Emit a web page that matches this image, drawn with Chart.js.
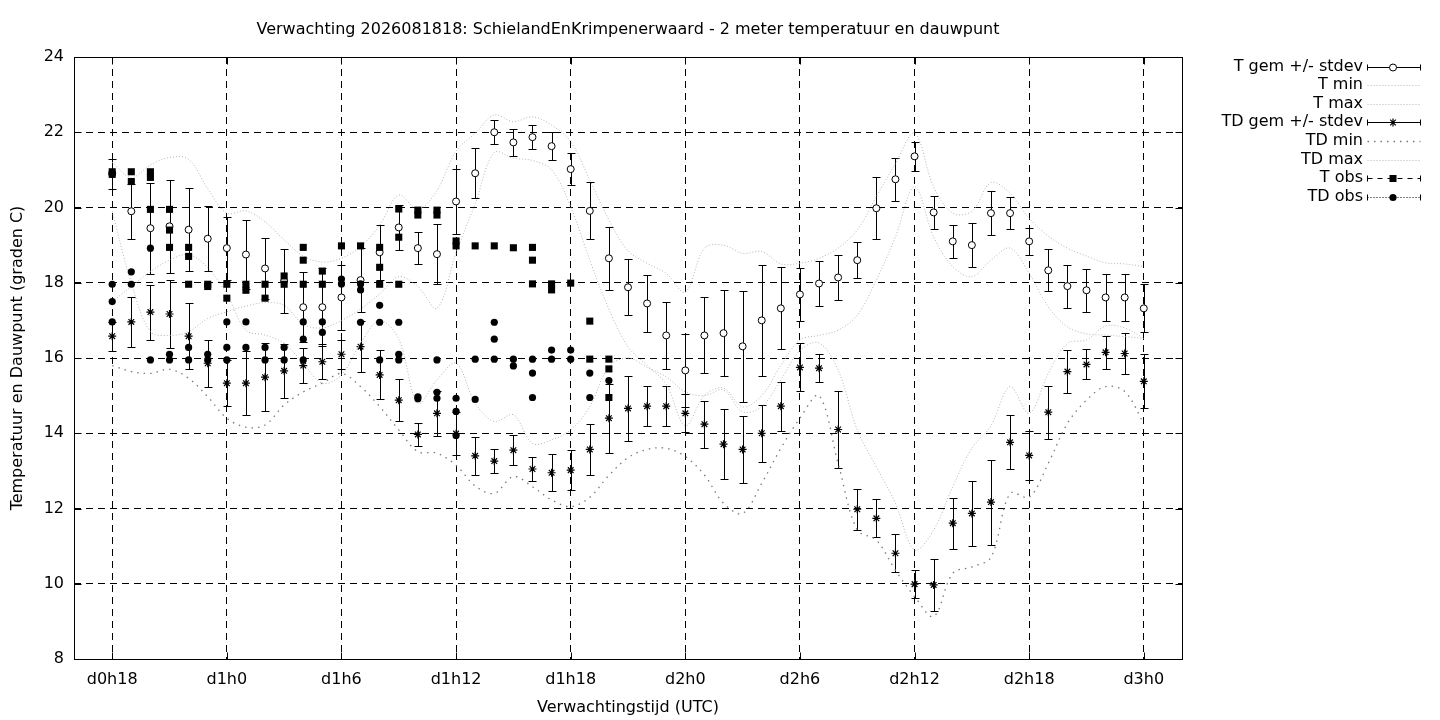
<!DOCTYPE html>
<html><head><meta charset="utf-8">
<script src="https://cdn.jsdelivr.net/npm/chart.js@4.4.1/dist/chart.umd.min.js"></script>
<style>html,body{margin:0;padding:0;background:#fff;}#wrap{width:1440px;height:720px;}</style>
</head><body><div id="wrap"><canvas id="c" width="1440" height="720"></canvas></div>
<script>
const titleText = 'Verwachting 2026081818: SchielandEnKrimpenerwaard - 2 meter temperatuur en dauwpunt';
const xTitle = 'Verwachtingstijd (UTC)';
const yTitle = 'Temperatuur en Dauwpunt (graden C)';
const seriesLabels = ['T gem +/- stdev','T min','T max','TD gem +/- stdev','TD min','TD max','T obs','TD obs'];
const xTickHours = [18,24,30,36,42,48,54,60,66,72];
const xTickLabels = ['d0h18','d1h0','d1h6','d1h12','d1h18','d2h0','d2h6','d2h12','d2h18','d3h0'];
const yTicks = [8,10,12,14,16,18,20,22,24];

const hours = [18,19,20,21,22,23,24,25,26,27,28,29,30,31,32,33,34,35,36,37,38,39,40,41,42,43,44,45,46,47,48,49,50,51,52,53,54,55,56,57,58,59,60,61,62,63,64,65,66,67,68,69,70,71,72];
const tMean = [20.9,19.9,19.45,19.5,19.41,19.17,18.92,18.75,18.38,18.05,
  17.35,17.35,17.61,18.07,18.81,19.47,18.92,18.76,20.16,20.91,
  22.0,21.73,21.87,21.63,21.02,19.91,18.65,17.88,17.45,16.6,
  15.67,16.6,16.66,16.31,17.0,17.32,17.69,17.98,18.14,18.6,
  19.98,20.75,21.36,19.87,19.1,19.0,19.85,19.85,19.1,18.33,
  17.91,17.8,17.61,17.61,17.32];
const tStd = [0.4,0.73,1.21,1.24,1.1,0.86,0.84,0.92,0.82,0.85,
  0.93,1.04,0.87,0.85,0.73,0.6,0.43,0.79,0.87,0.66,
  0.32,0.35,0.31,0.37,0.42,0.76,0.83,0.75,0.76,0.89,
  0.96,1.01,1.15,1.47,1.47,1.09,0.71,0.61,0.6,0.47,
  0.83,0.57,0.38,0.44,0.44,0.59,0.59,0.42,0.36,0.56,
  0.57,0.57,0.62,0.62,0.64];
const tMin = [19.9,18.0,16.7,16.6,16.7,17.05,17.23,17.38,17.47,17.4,
  16.9,16.8,17.0,17.3,17.7,18.16,17.9,17.32,18.8,20.1,
  21.46,21.31,21.25,21.0,20.02,18.6,17.3,16.3,15.8,15.3,
  14.2,15.0,15.2,14.7,15.0,15.8,16.48,16.6,16.74,17.14,
  18.07,19.22,20.55,19.22,18.43,18.16,18.6,18.92,18.25,17.36,
  16.83,16.64,16.61,16.57,16.52];
const tMax = [21.2,20.8,21.13,21.33,21.28,20.5,19.85,19.91,19.62,19.14,
  18.71,18.55,18.65,18.96,19.53,20.33,19.95,20.45,21.5,21.97,
  22.46,22.28,22.41,22.19,21.75,20.73,19.67,18.85,18.52,18.25,
  17.75,18.92,19.0,18.78,18.83,18.5,18.52,18.65,18.92,19.4,
  20.29,21.17,21.97,20.55,19.85,19.9,20.66,20.38,19.71,19.24,
  18.92,18.71,18.53,18.5,18.43];
const tdMean = [16.58,16.96,17.22,17.17,16.58,15.86,15.33,15.33,15.49,15.66,
  15.8,15.9,16.1,16.3,15.55,14.88,13.97,14.53,13.99,13.4,
  13.26,13.55,13.05,12.95,13.02,13.57,14.4,14.66,14.72,14.72,
  14.53,14.24,13.71,13.57,14.0,14.72,15.75,15.73,14.1,11.98,
  11.74,10.81,9.99,9.97,11.61,11.87,12.17,13.76,13.41,14.56,
  15.64,15.83,16.15,16.12,15.38];
const tdStd = [0.39,0.66,0.73,0.9,0.87,0.62,0.61,0.85,0.91,0.71,
  0.46,0.47,0.38,0.68,0.65,0.55,0.3,0.6,0.58,0.5,
  0.31,0.4,0.31,0.49,0.53,0.67,0.92,0.87,0.53,0.53,
  0.51,0.62,0.93,0.9,0.76,0.65,0.64,0.38,1.03,0.55,
  0.5,0.51,0.375,0.7,0.68,0.87,1.13,0.72,0.64,0.7,
  0.58,0.4,0.43,0.55,0.72];
const tdMin = [15.8,15.64,15.59,15.7,15.46,14.97,14.4,14.16,14.22,14.75,
  15.1,15.33,15.59,15.24,14.71,14.09,13.51,13.47,13.15,12.6,
  12.4,12.85,12.58,12.23,12.05,12.3,12.88,13.35,13.57,13.6,
  13.38,12.89,12.14,11.87,12.67,13.6,14.4,15.0,13.2,11.43,
  11.16,10.36,9.66,9.13,10.28,10.45,10.7,12.4,12.3,13.2,
  14.26,14.88,15.24,15.11,14.26];
const tdMax = [17.5,17.9,18.3,18.6,18.75,18.4,17.7,16.74,16.61,16.39,
  15.86,15.33,15.55,16.39,17.0,16.5,14.8,15.42,15.86,14.8,
  14.31,14.49,13.73,13.82,14.09,14.71,15.77,16.0,15.75,15.5,
  15.1,15.0,15.15,14.57,14.71,15.42,16.2,16.4,15.68,14.09,
  13.11,12.14,10.9,11.43,12.58,13.6,14.2,15.24,14.53,15.59,
  16.39,16.48,16.85,16.8,16.52];

const obsHours = [18,19,20,21,22,23,24,25,26,27,28,29,30,31,32,33,34,35,36,37,38,39,40,41,42,43,44];
const tObs = [[20.95,20.88],[20.95,20.69],[20.95,20.8,19.95],[19.95,19.4,18.94],[18.94,18.7,17.96],
  [17.96,17.9],[17.96,17.59],[17.96,17.8],[17.96,17.59],[18.18,17.96],
  [18.94,18.6,17.96],[18.31,17.96],[18.98],[18.98],[18.94,18.41,17.96],
  [19.96,19.21,17.96],[19.93,19.8],[19.93,19.8],[19.11,18.98],[18.98],
  [18.98],[18.93],[18.94,18.6,17.97],[17.97,17.81],[17.99],
  [16.98,15.97],[15.97,15.71,14.95]];
const tdObs = [[17.96,17.5,16.96],[18.29,17.96],[18.92,15.95],[16.1,15.95],[16.28,15.95],
  [16.1,15.95],[16.96,16.28,15.95],[16.96,16.28],[16.28,15.95],[16.28,15.95],
  [16.96,16.5,15.95],[16.96,16.68],[18.1,17.97],[17.97,17.81,16.95],[17.4,16.95,15.95],
  [16.95,16.1,15.95],[14.97,14.92],[15.95,15.09,14.93],[14.93,14.58,13.94],[15.97,14.9],
  [16.95,16.5,15.97],[15.97,15.79],[15.97,15.6,14.95],[16.21,15.97],[16.21,15.97],
  [15.6,14.95],[15.4]];

const FONT = '"DejaVu Sans", sans-serif';
const LIGHT = '#b4b4b4';
const LIGHT_DASH = [1, 2];
const DARK = '#7a7a7a';
const DARK_DASH = [1.5, 5];

function pts(xs, ys) { return xs.map((x, i) => ({x: x, y: ys[i]})); }
function obsPts(xs, lists) {
  const out = [];
  xs.forEach((x, i) => lists[i].forEach(v => out.push({x: x, y: v})));
  return out;
}

const errorBars = {
  id: 'errorBars',
  beforeDatasetsDraw(chart) {
    const ctx = chart.ctx, xs = chart.scales.x, ys = chart.scales.y;
    ctx.save();
    ctx.strokeStyle = '#000';
    ctx.lineWidth = 1;
    chart.data.datasets.forEach(ds => {
      if (!ds.errors) return;
      ds.data.forEach((p, i) => {
        const x = Math.round(xs.getPixelForValue(p.x)) + 0.5;
        const y1 = Math.round(ys.getPixelForValue(p.y - ds.errors[i])) + 0.5;
        const y2 = Math.round(ys.getPixelForValue(p.y + ds.errors[i])) + 0.5;
        ctx.beginPath();
        ctx.moveTo(x, y1); ctx.lineTo(x, y2);
        ctx.moveTo(x - 4, y1); ctx.lineTo(x + 4, y1);
        ctx.moveTo(x - 4, y2); ctx.lineTo(x + 4, y2);
        ctx.stroke();
      });
    });
    ctx.restore();
  }
};

const frame = {
  id: 'frame',
  afterDraw(chart) {
    const ctx = chart.ctx, a = chart.chartArea, xs = chart.scales.x, ys = chart.scales.y;
    const L = Math.round(a.left) + 0.5, R = Math.round(a.right) + 0.5;
    const T = Math.round(a.top) + 0.5, B = Math.round(a.bottom) + 0.5;
    ctx.save();
    ctx.strokeStyle = '#000';
    ctx.lineWidth = 1;
    ctx.setLineDash([]);
    ctx.strokeRect(L, T, R - L, B - T);
    ctx.beginPath();
    yTicks.forEach(v => {
      const y = Math.round(ys.getPixelForValue(v)) + 0.5;
      ctx.moveTo(L, y); ctx.lineTo(L + 7, y);
      ctx.moveTo(R, y); ctx.lineTo(R - 7, y);
    });
    xTickHours.forEach(h => {
      const x = Math.round(xs.getPixelForValue(h)) + 0.5;
      ctx.moveTo(x, B); ctx.lineTo(x, B - 7);
      ctx.moveTo(x, T); ctx.lineTo(x, T + 7);
    });
    ctx.stroke();
    ctx.restore();
  }
};

function drawPointAt(ctx, style, x, y) {
  ctx.save();
  ctx.setLineDash([]);
  ctx.lineWidth = 1;
  ctx.strokeStyle = '#000';
  if (style === 'circleOpen') {
    ctx.beginPath(); ctx.arc(x, y, 3.5, 0, Math.PI * 2);
    ctx.fillStyle = '#fff'; ctx.fill(); ctx.stroke();
  } else if (style === 'star') {
    const r = 4;
    ctx.lineWidth = 1.2;
    ctx.beginPath();
    ctx.moveTo(x - r, y); ctx.lineTo(x + r, y);
    ctx.moveTo(x, y - r); ctx.lineTo(x, y + r);
    const d = r * Math.SQRT1_2;
    ctx.moveTo(x - d, y - d); ctx.lineTo(x + d, y + d);
    ctx.moveTo(x - d, y + d); ctx.lineTo(x + d, y - d);
    ctx.stroke();
  } else if (style === 'rect') {
    ctx.fillStyle = '#000'; ctx.fillRect(x - 3.5, y - 3.5, 7, 7);
  } else if (style === 'dot') {
    ctx.beginPath(); ctx.arc(x, y, 3.6, 0, Math.PI * 2);
    ctx.fillStyle = '#000'; ctx.fill();
  }
  ctx.restore();
}

const legendPlugin = {
  id: 'customLegend',
  afterDraw(chart) {
    const ctx = chart.ctx;
    const textRight = 1363, x0 = 1367.5, x1 = 1420.5, xm = 1393;
    const ys = [66.5, 85, 103.5, 122, 141, 159.5, 178, 197];
    ctx.save();
    ctx.font = '16px ' + FONT;
    ctx.fillStyle = '#000';
    ctx.textAlign = 'right';
    ctx.textBaseline = 'middle';
    seriesLabels.forEach((t, i) => ctx.fillText(t, textRight, ys[i]));
    const kinds = ['err', 'light', 'light', 'err', 'dark', 'light', 'obsT', 'obsTD'];
    kinds.forEach((k, i) => {
      const y = Math.round(ys[i]) + 0.5;
      ctx.save();
      ctx.lineWidth = 1;
      if (k === 'err') {
        ctx.strokeStyle = '#000';
        ctx.beginPath();
        ctx.moveTo(x0, y); ctx.lineTo(x1, y);
        ctx.moveTo(x0, y - 3); ctx.lineTo(x0, y + 3);
        ctx.moveTo(x1, y - 3); ctx.lineTo(x1, y + 3);
        ctx.stroke();
        drawPointAt(ctx, i === 0 ? 'circleOpen' : 'star', xm, y);
      } else if (k === 'light' || k === 'dark') {
        ctx.strokeStyle = k === 'light' ? LIGHT : DARK;
        ctx.setLineDash(k === 'light' ? LIGHT_DASH : DARK_DASH);
        ctx.lineWidth = k === 'light' ? 1 : 1.3;
        ctx.beginPath(); ctx.moveTo(x0, y); ctx.lineTo(x1, y); ctx.stroke();
      } else {
        ctx.strokeStyle = '#000';
        ctx.setLineDash(k === 'obsT' ? [5, 5] : [1, 2]);
        ctx.beginPath(); ctx.moveTo(x0, y); ctx.lineTo(x1, y); ctx.stroke();
        ctx.setLineDash([]);
        ctx.beginPath();
        ctx.moveTo(x0, y - 3); ctx.lineTo(x0, y + 3);
        ctx.moveTo(x1, y - 3); ctx.lineTo(x1, y + 3);
        ctx.stroke();
        drawPointAt(ctx, k === 'obsT' ? 'rect' : 'dot', xm, y);
      }
      ctx.restore();
    });
    ctx.restore();
  }
};

const lineDs = (label, ys, color, dash, width, order) => ({
  type: 'line', label: label, data: pts(hours, ys), showLine: true,
  borderColor: color, borderDash: dash, borderWidth: width, pointRadius: 0,
  tension: 0.35, fill: false, order: order
});

new Chart(document.getElementById('c'), {
  type: 'scatter',
  data: {
    datasets: [
      {label: seriesLabels[0], data: pts(hours, tMean), errors: tStd, pointStyle: 'circle',
       pointRadius: 3.5, pointBackgroundColor: '#fff', pointBorderColor: '#000', pointBorderWidth: 1, order: 8},
      lineDs(seriesLabels[1], tMin, LIGHT, LIGHT_DASH, 1, 7),
      lineDs(seriesLabels[2], tMax, LIGHT, LIGHT_DASH, 1, 6),
      {label: seriesLabels[3], data: pts(hours, tdMean), errors: tdStd, pointStyle: 'star',
       pointRadius: 4, pointBackgroundColor: '#000', pointBorderColor: '#000', pointBorderWidth: 1.2, order: 5},
      lineDs(seriesLabels[4], tdMin, DARK, DARK_DASH, 1.3, 4),
      lineDs(seriesLabels[5], tdMax, LIGHT, LIGHT_DASH, 1, 3),
      {label: seriesLabels[6], data: obsPts(obsHours, tObs), pointStyle: 'rect',
       pointRadius: 5, pointBackgroundColor: '#000', pointBorderColor: '#000', pointBorderWidth: 0, order: 2},
      {label: seriesLabels[7], data: obsPts(obsHours, tdObs), pointStyle: 'circle',
       pointRadius: 3.6, pointBackgroundColor: '#000', pointBorderColor: '#000', pointBorderWidth: 0, order: 1}
    ]
  },
  options: {
    responsive: false,
    devicePixelRatio: 1,
    animation: false,
    layout: {padding: {left: 0, right: 258, top: 0, bottom: 0}},
    plugins: {
      legend: {display: false},
      tooltip: {enabled: false},
      title: {
        display: true, text: titleText, fullSize: false, color: '#000',
        font: {family: FONT, size: 16, weight: 'normal', lineHeight: 1.2},
        padding: {top: 20.5, bottom: 17.3}
      }
    },
    scales: {
      x: {
        type: 'linear', min: 16, max: 74,
        afterBuildTicks: s => { s.ticks = xTickHours.map(v => ({value: v})); },
        afterFit: s => { s.height = 61; },
        ticks: {
          color: '#000', font: {family: FONT, size: 16}, padding: 11, maxRotation: 0, autoSkip: false,
          callback: v => { const i = xTickHours.indexOf(v); return i >= 0 ? xTickLabels[i] : ''; }
        },
        grid: {color: '#000', lineWidth: 1, drawTicks: false},
        border: {display: false, dash: [7, 5]},
        title: {display: true, text: xTitle, color: '#000', font: {family: FONT, size: 16}, padding: {top: 0, bottom: 2.8}}
      },
      y: {
        type: 'linear', min: 8, max: 24,
        afterBuildTicks: s => { s.ticks = yTicks.map(v => ({value: v})); },
        afterFit: s => { s.width = 74; },
        ticks: {color: '#000', font: {family: FONT, size: 16}, padding: 10,
          callback: v => String(v)},
        grid: {color: '#000', lineWidth: 1, drawTicks: false},
        border: {display: false, dash: [7, 5]},
        title: {display: true, text: yTitle, color: '#000', font: {family: FONT, size: 16}, padding: {top: 8.4, bottom: 0}}
      }
    }
  },
  plugins: [errorBars, frame, legendPlugin]
});
</script>
</body></html>
